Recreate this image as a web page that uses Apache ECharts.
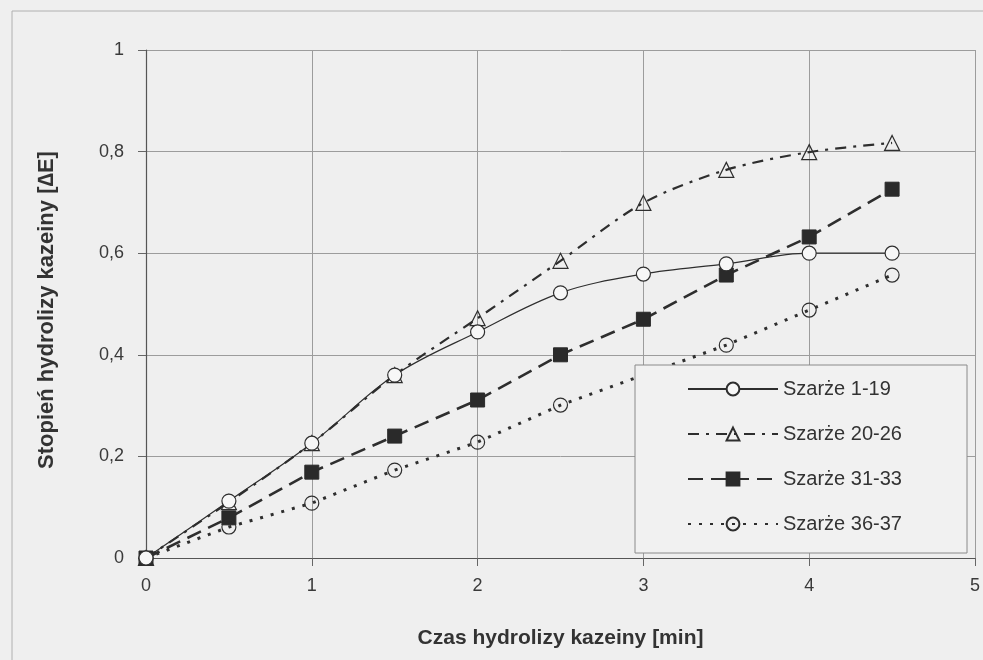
<!DOCTYPE html>
<html>
<head>
<meta charset="utf-8">
<script src="https://cdn.jsdelivr.net/npm/echarts@6/dist/echarts.min.js"></script>
<style>html,body{margin:0;padding:0;background:#efefef;}#c{width:983px;height:660px;}</style>
</head>
<body>
<div id="c"></div>
<script>
const times = [0, 0.5, 1, 1.5, 2, 2.5, 3, 3.5, 4, 4.5];
const s1_19  = [0, 0.112, 0.226, 0.360, 0.445, 0.522, 0.559, 0.579, 0.600, 0.600];
const s20_26 = [0, 0.110, 0.226, 0.360, 0.472, 0.585, 0.699, 0.764, 0.799, 0.817];
const s31_33 = [0, 0.079, 0.169, 0.240, 0.311, 0.400, 0.470, 0.557, 0.632, 0.726];
const s36_37 = [0, 0.061, 0.108, 0.173, 0.228, 0.301, 0.360, 0.419, 0.488, 0.557];
const names = ['Szarże 1-19', 'Szarże 20-26', 'Szarże 31-33', 'Szarże 36-37'];
const xTicks = [0, 1, 2, 3, 4, 5];
const yTicks = [0, 0.2, 0.4, 0.6, 0.8, 1];

const pair = arr => times.map((t, i) => [t, arr[i]]);
const ink = '#2e2e2e';
const font = 'Liberation Sans, Arial, sans-serif';

const chart = echarts.init(document.getElementById('c'), null, {renderer: 'canvas'});
chart.setOption({
  backgroundColor: '#efefef',
  animation: false,
  textStyle: {fontFamily: font},
  graphic: [
    {type: 'rect', shape: {x: 12, y: 11, width: 1000, height: 700},
     style: {fill: 'none', stroke: '#b0b0b0', lineWidth: 1}, z: -1},
    {type: 'rect', shape: {x: 635, y: 365, width: 332, height: 188},
     style: {fill: '#f1f1f1', stroke: '#8a8a8a', lineWidth: 1}, z: 5}
  ],
  grid: {left: 146, right: 8, top: 50, bottom: 102, containLabel: false},
  xAxis: {
    type: 'value', min: 0, max: 5, interval: 1,
    name: 'Czas hydrolizy kazeiny [min]', nameLocation: 'middle', nameGap: 70,
    nameTextStyle: {fontSize: 21, fontWeight: 'bold', color: '#333', fontFamily: font},
    axisLine: {show: true, lineStyle: {color: '#555', width: 1.2}},
    axisTick: {show: true, length: 8, lineStyle: {color: '#666'}},
    axisLabel: {fontSize: 18, color: '#3a3a3a', margin: 19, fontFamily: font,
      formatter: v => xTicks.includes(v) ? String(v) : ''},
    splitLine: {show: true, lineStyle: {color: '#9c9c9c', width: 1}}
  },
  yAxis: {
    type: 'value', min: 0, max: 1, interval: 0.2,
    name: 'Stopień hydrolizy kazeiny [∆E]', nameLocation: 'middle', nameGap: 88,
    nameTextStyle: {fontSize: 22, fontWeight: 'bold', color: '#333', fontFamily: font,
      padding: [0, 12, 0, 0]},
    axisLine: {show: true, lineStyle: {color: '#555', width: 1.2}},
    axisTick: {show: true, length: 8, lineStyle: {color: '#666'}},
    axisLabel: {fontSize: 18, color: '#3a3a3a', margin: 22, fontFamily: font,
      formatter: v => {
        const t = yTicks.find(y => Math.abs(y - v) < 1e-9);
        return t === undefined ? '' : String(+t.toFixed(1)).replace('.', ',');
      }},
    splitLine: {show: true, lineStyle: {color: '#9c9c9c', width: 1}}
  },
  legend: {
    orient: 'vertical', left: 682, top: 374, z: 10,
    itemWidth: 90, itemHeight: 16, itemGap: 25,
    textStyle: {fontSize: 20, color: '#333', fontFamily: font},
    data: names
  },
  series: [
    {name: names[0], type: 'line', data: pair(s1_19), smooth: 0.35,
     symbol: 'circle', symbolSize: 14,
     lineStyle: {color: ink, width: 1.2, type: 'solid'},
     itemStyle: {color: '#f7f7f7', borderColor: ink, borderWidth: 1.2}, z: 4},
    {name: names[1], type: 'line', data: pair(s20_26), smooth: 0.3,
     symbol: 'triangle', symbolSize: 15,
     lineStyle: {color: ink, width: 2.2, type: [11, 7, 3, 7]},
     itemStyle: {color: 'rgba(0,0,0,0)', borderColor: ink, borderWidth: 1.2}, z: 3},
    {name: names[2], type: 'line', data: pair(s31_33), smooth: false,
     symbol: 'rect', symbolSize: 14,
     lineStyle: {color: ink, width: 2.6, type: [15, 8]},
     itemStyle: {color: '#2a2a2a', borderColor: '#2a2a2a', borderWidth: 1}, z: 3},
    {name: names[3], type: 'line', data: pair(s36_37), smooth: false,
     symbol: 'circle', symbolSize: 14,
     lineStyle: {color: ink, width: 3, type: [3, 8]},
     itemStyle: {color: 'rgba(0,0,0,0)', borderColor: ink, borderWidth: 1.2}, z: 3}
  ]
});
</script>
</body>
</html>
